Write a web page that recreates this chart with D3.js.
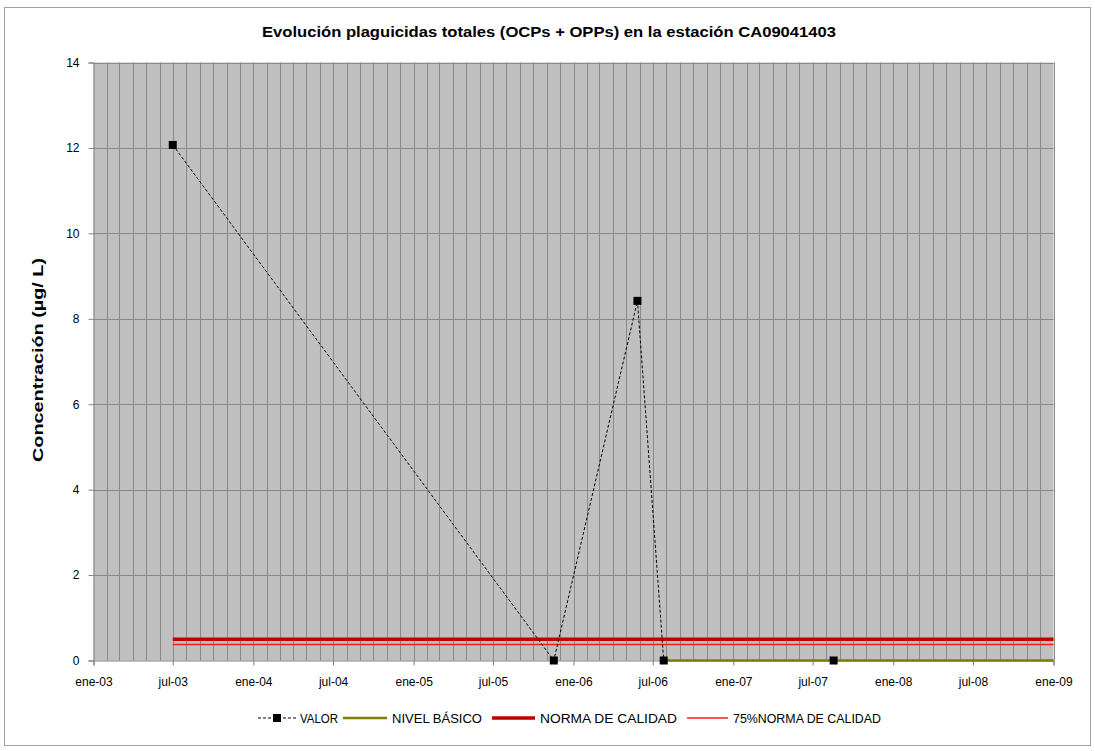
<!DOCTYPE html>
<html><head><meta charset="utf-8">
<script src="https://cdn.jsdelivr.net/npm/d3@7"></script>
<style>
html,body{margin:0;padding:0;background:#fff;}
text{font-family:"Liberation Sans",Arial,sans-serif;}
</style></head>
<body><svg id="c" width="1095" height="751"></svg>
<script>
const titleText = "Evolución plaguicidas totales (OCPs + OPPs) en la estación CA09041403";
const yLabel = "Concentración (µg/ L)";
const sampleDates = ["2003-07-01","2005-11-17","2006-05-27","2006-07-26","2007-08-18"];
const valorValues = [12.07, 0, 8.42, 0, 0];
const nivelDates = ["2006-07-26","2009-01-01"];
const nivelValues = [0, 0];
const normaDates = ["2003-07-01","2009-01-01"];
const normaValues = [0.5, 0.5];
const norma75Values = [0.375, 0.375];
const xTickDates = ["2003-01-01","2003-07-01","2004-01-01","2004-07-01","2005-01-01","2005-07-01","2006-01-01","2006-07-01","2007-01-01","2007-07-01","2008-01-01","2008-07-01","2009-01-01"];
const xTickLabels = ["ene-03","jul-03","ene-04","jul-04","ene-05","jul-05","ene-06","jul-06","ene-07","jul-07","ene-08","jul-08","ene-09"];
const yTicks = [0,2,4,6,8,10,12,14];
const legendLabels = ["VALOR","NIVEL BÁSICO","NORMA DE CALIDAD","75%NORMA DE CALIDAD"];

const parse = d3.timeParse("%Y-%m-%d");
const svg = d3.select("#c");
const L = 93.5, R = 1053.5, T = 62.5, B = 660.5;

// outer frame
svg.append("rect").attr("x",4.5).attr("y",7.5).attr("width",1086).attr("height",738)
  .attr("fill","#fff").attr("stroke","#a0a0a0").attr("stroke-width",1);

const x = d3.scaleTime().domain([parse("2003-01-01"), parse("2009-01-01")]).range([L, R]);
const y = d3.scaleLinear().domain([0,14]).range([B, T]);

// plot background
svg.append("rect").attr("x",L).attr("y",T).attr("width",R-L).attr("height",B-T).attr("fill","#c0c0c0");

// monthly vertical gridlines
const months = d3.timeMonth.range(parse("2003-02-01"), parse("2009-01-02"));
svg.append("g").selectAll("line").data(months).join("line")
  .attr("x1",d=>Math.round(x(d))+0.5).attr("x2",d=>Math.round(x(d))+0.5)
  .attr("y1",T).attr("y2",B).attr("stroke","#898989").attr("stroke-width",1);
// horizontal gridlines
svg.append("g").selectAll("line").data(yTicks.slice(1)).join("line")
  .attr("x1",L).attr("x2",R).attr("y1",d=>Math.round(y(d))+0.5).attr("y2",d=>Math.round(y(d))+0.5)
  .attr("stroke","#898989").attr("stroke-width",1);

// axes
const yAxis = d3.axisLeft(y).tickValues(yTicks).tickSize(5).tickPadding(5).tickFormat(d3.format("d"));
const gy = svg.append("g").attr("transform",`translate(${L},0)`).call(yAxis);
gy.select(".domain").attr("stroke","#808080");
gy.selectAll(".tick line").attr("stroke","#808080");
gy.selectAll("text").attr("font-size",12).attr("fill","#000").attr("dx",-4);

const xAxis = d3.axisBottom(x).tickValues(xTickDates.map(parse)).tickSize(5).tickPadding(12)
  .tickFormat((d,i)=>xTickLabels[i]);
const gx = svg.append("g").attr("transform",`translate(0,${B})`).call(xAxis);
gx.select(".domain").attr("stroke","#808080");
gx.selectAll(".tick line").attr("stroke","#808080");
gx.selectAll("text").attr("font-size",12).attr("fill","#000");

// series
const line = d3.line().x(d=>x(d[0])).y(d=>y(d[1]));
const normaData = normaDates.map((d,i)=>[parse(d), normaValues[i]]);
const norma75Data = normaDates.map((d,i)=>[parse(d), norma75Values[i]]);
const nivelData = nivelDates.map((d,i)=>[parse(d), nivelValues[i]]);
const valorData = sampleDates.map((d,i)=>[parse(d), valorValues[i]]);

svg.append("path").datum(normaData).attr("d",line).attr("fill","none").attr("stroke","#c00000").attr("stroke-width",3.5);
svg.append("path").datum(norma75Data).attr("d",line).attr("fill","none").attr("stroke","#ff1a1a").attr("stroke-width",1.5);
svg.append("path").datum(valorData).attr("d",line).attr("fill","none").attr("stroke","#000").attr("stroke-width",1).attr("stroke-dasharray","3,2");
svg.append("path").datum(nivelData).attr("d",line).attr("fill","none").attr("stroke","#808000").attr("stroke-width",2.5);
svg.append("g").selectAll("rect").data(valorData).join("rect")
  .attr("x",d=>x(d[0])-4).attr("y",d=>y(d[1])-4).attr("width",8).attr("height",8).attr("fill","#000");

// title
svg.append("text").attr("x",549).attr("y",37).attr("text-anchor","middle")
  .attr("font-size",14).attr("font-weight","bold").attr("textLength",574).attr("lengthAdjust","spacingAndGlyphs")
  .text(titleText);
// y label
svg.append("text").attr("transform","translate(43,360) rotate(-90)").attr("text-anchor","middle")
  .attr("font-size",14).attr("font-weight","bold").attr("textLength",204).attr("lengthAdjust","spacingAndGlyphs")
  .text(yLabel);

// legend
const ly = 718;
const lg = svg.append("g");
const items = [
  {x0:258, x1:296, tx:300, tw:38, color:"#000", w:1, dash:"3,2", marker:true},
  {x0:343, x1:387, tx:392, tw:90, color:"#808000", w:2.5},
  {x0:492, x1:535, tx:540, tw:137, color:"#c00000", w:3.5},
  {x0:687, x1:728, tx:733, tw:148, color:"#ff1a1a", w:1.5}
];
items.forEach((it,i)=>{
  lg.append("line").attr("x1",it.x0).attr("x2",it.x1).attr("y1",ly).attr("y2",ly)
    .attr("stroke",it.color).attr("stroke-width",it.w).attr("stroke-dasharray",it.dash||null);
  if(it.marker) lg.append("rect").attr("x",(it.x0+it.x1)/2-4).attr("y",ly-4).attr("width",8).attr("height",8).attr("fill","#000");
  lg.append("text").attr("x",it.tx).attr("y",ly+4.5).attr("font-size",12)
    .attr("textLength",it.tw).attr("lengthAdjust","spacingAndGlyphs").text(legendLabels[i]);
});
</script></body></html>
